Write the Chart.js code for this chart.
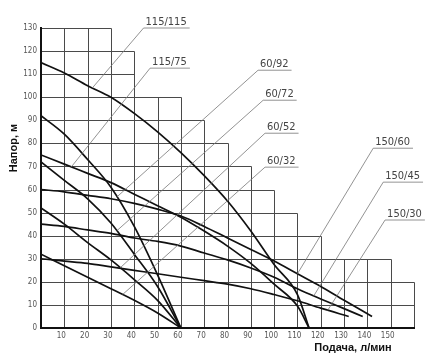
<!DOCTYPE html>
<html>
<head>
<meta charset="utf-8">
<script src="https://cdn.jsdelivr.net/npm/chart.js@4.4.1/dist/chart.umd.min.js"></script>
<style>
  html, body { margin: 0; padding: 0; background: #fff; }
</style>
</head>
<body>
<canvas id="myChart" width="442" height="362"></canvas>
<script>
// axis ticks
let flowTicks = [10, 20, 30, 40, 50, 60, 70, 80, 90, 100, 110, 120, 130, 140, 150];
let headTicks = [0, 10, 20, 30, 40, 50, 60, 70, 80, 90, 100, 110, 120, 130];

// stepped grid: top of each vertical line
let gridX = [10, 20, 30, 40, 50, 60, 70, 80, 90, 100, 110, 120, 130, 140, 150, 160];
let gridTop = [130, 130, 130, 120, 100, 100, 90, 80, 70, 60, 50, 40, 30, 30, 30, 20];

// pump curves (flow l/min -> head m)
let curveNames = ["115/115", "115/75", "60/92", "60/72", "60/52", "60/32", "150/60", "150/45", "150/30"];

let flow115 = [0, 10, 20, 30, 40, 50, 60, 70, 80, 90, 100, 110, 115];
let head115_115 = [115, 110.5, 105, 100, 93, 85, 76, 66, 55, 42, 27.5, 14.5, 0];
let head115_75 = [75, 71, 67, 63, 58, 53, 48, 42, 35.5, 28, 19, 9.5, 0];

let flow60 = [0, 10, 20, 30, 40, 50, 60];
let head60_92 = [92, 84, 73, 61, 44, 23, 0];
let head60_72 = [72, 64, 56, 45.5, 32, 18, 0];
let head60_52 = [52, 45, 37, 29.5, 21, 12, 0];
let head60_32 = [32, 27, 22, 17, 12, 6.5, 0];

let flow150_60 = [0, 10, 20, 30, 40, 50, 60, 70, 80, 90, 100, 110, 120, 130, 142];
let head150_60 = [60, 59, 57.5, 56, 54, 51.5, 48.5, 44, 39, 34, 29, 23.5, 18, 12, 5];
let flow150_45 = [0, 10, 20, 30, 40, 50, 60, 70, 80, 90, 100, 110, 120, 130, 138];
let head150_45 = [45, 44, 42.5, 41, 39, 37.5, 35.5, 32.5, 29.5, 26, 22, 17, 12.6, 8.4, 5];
let flow150_30 = [0, 10, 20, 30, 40, 50, 60, 70, 80, 90, 100, 110, 120, 132];
let head150_30 = [30, 29, 28, 26.5, 25, 23.5, 22, 20.5, 19, 17, 14.5, 11.8, 8.6, 5];

let curveFlows = [flow115, flow115, flow60, flow60, flow60, flow60, flow150_60, flow150_45, flow150_30];
let curveHeads = [head115_115, head115_75, head60_92, head60_72, head60_52, head60_32, head150_60, head150_45, head150_30];

// label placement (left end of underline, in axis units) and where the leader meets its curve
let labelPos = [[44, 130], [46.8, 112.6], [93.1, 111.7], [95.3, 98.7], [96.1, 84.4], [96.1, 69.7], [142.5, 77.9], [146.8, 63.2], [147.6, 46.8]];
let leaderFlow = [22, 13, 32.5, 32.5, 34, 35, 110, 117, 123];

function headAt(flows, heads, q) {
  for (let i = 1; i < flows.length; i++) {
    if (q <= flows[i]) {
      let t = (q - flows[i - 1]) / (flows[i] - flows[i - 1]);
      return heads[i - 1] + t * (heads[i] - heads[i - 1]);
    }
  }
  return heads[heads.length - 1];
}

const stairGrid = {
  id: "stairGrid",
  beforeDraw(chart) {
    const { ctx, scales: { x, y } } = chart;
    ctx.save();
    ctx.fillStyle = "#fff";
    ctx.fillRect(0, 0, chart.width, chart.height);
    ctx.strokeStyle = "#4a4a4a";
    ctx.lineWidth = 1;
    ctx.beginPath();
    gridX.forEach((gx, i) => {
      const px = Math.round(x.getPixelForValue(gx)) + 0.5;
      ctx.moveTo(px, y.getPixelForValue(0));
      ctx.lineTo(px, Math.round(y.getPixelForValue(gridTop[i])) + 0.5);
    });
    headTicks.forEach(v => {
      if (v === 0) return;
      let reach = 0;
      gridX.forEach((gx, i) => { if (gridTop[i] >= v) reach = gx; });
      const py = Math.round(y.getPixelForValue(v)) + 0.5;
      ctx.moveTo(x.getPixelForValue(0), py);
      ctx.lineTo(Math.round(x.getPixelForValue(reach)) + 0.5, py);
    });
    ctx.stroke();
    ctx.restore();
  },
  afterDraw(chart) {
    const { ctx, scales: { x, y } } = chart;
    ctx.save();
    // leaders and labels
    ctx.font = "11px 'DejaVu Sans Condensed', 'Liberation Sans Narrow', sans-serif";
    ctx.textBaseline = "alphabetic";
    curveNames.forEach((name, i) => {
      const lx = x.getPixelForValue(labelPos[i][0]);
      const ly = y.getPixelForValue(labelPos[i][1]);
      const q = leaderFlow[i];
      const ex = x.getPixelForValue(q);
      const ey = y.getPixelForValue(headAt(curveFlows[i], curveHeads[i], q));
      const w = ctx.measureText(name).width;
      ctx.strokeStyle = "#777";
      ctx.lineWidth = 0.8;
      ctx.beginPath();
      ctx.moveTo(ex, ey);
      ctx.lineTo(lx, ly);
      ctx.lineTo(lx + w + 5, ly);
      ctx.stroke();
      ctx.fillStyle = "#444";
      ctx.fillText(name, lx + 2, ly - 3);
    });
    // axis titles
    ctx.fillStyle = "#111";
    ctx.font = "bold 11px 'Liberation Sans', Arial, sans-serif";
    ctx.textAlign = "center";
    ctx.textBaseline = "middle";
    ctx.fillText("Подача, л/мин", 353, 348);
    ctx.translate(14, 148);
    ctx.rotate(-Math.PI / 2);
    ctx.fillText("Напор, м", 0, 0);
    ctx.restore();
  }
};

let datasets = curveNames.map((name, i) => ({
  label: name,
  data: curveFlows[i].map((q, j) => ({ x: q, y: curveHeads[i][j] })),
  showLine: true,
  pointRadius: 0,
  borderColor: "#111",
  borderWidth: 1.7,
  cubicInterpolationMode: "monotone",
  fill: false,
}));

let tickFont = { family: "'DejaVu Sans Condensed', 'Liberation Sans Narrow', sans-serif", size: 8 };

let myChart = document.getElementById("myChart").getContext("2d");
let pumpChart = new Chart(myChart, {
  type: "scatter",
  data: { datasets: datasets },
  options: {
    responsive: false,
    animation: false,
    devicePixelRatio: 1,
    layout: { padding: { top: 28, right: 28, left: 0, bottom: 0 } },
    plugins: { legend: { display: false }, tooltip: { enabled: false } },
    scales: {
      x: {
        type: "linear",
        min: 0,
        max: 160,
        grid: { display: false, drawTicks: false },
        border: { display: true, color: "#111", width: 2 },
        afterFit: s => { s.height = 34; },
        ticks: {
          stepSize: 10,
          autoSkip: false,
          maxRotation: 0,
          padding: 3,
          labelOffset: -3,
          color: "#555",
          font: tickFont,
          callback: v => (flowTicks.includes(v) ? String(v) : ""),
        },
      },
      y: {
        type: "linear",
        min: 0,
        max: 130,
        grid: { display: false, drawTicks: false },
        border: { display: true, color: "#111", width: 2 },
        afterFit: s => { s.width = 41; },
        ticks: {
          stepSize: 10,
          autoSkip: false,
          padding: 4,
          color: "#555",
          font: tickFont,
          callback: v => (headTicks.includes(v) ? String(v) : ""),
        },
      },
    },
  },
  plugins: [stairGrid],
});
</script>
</body>
</html>
